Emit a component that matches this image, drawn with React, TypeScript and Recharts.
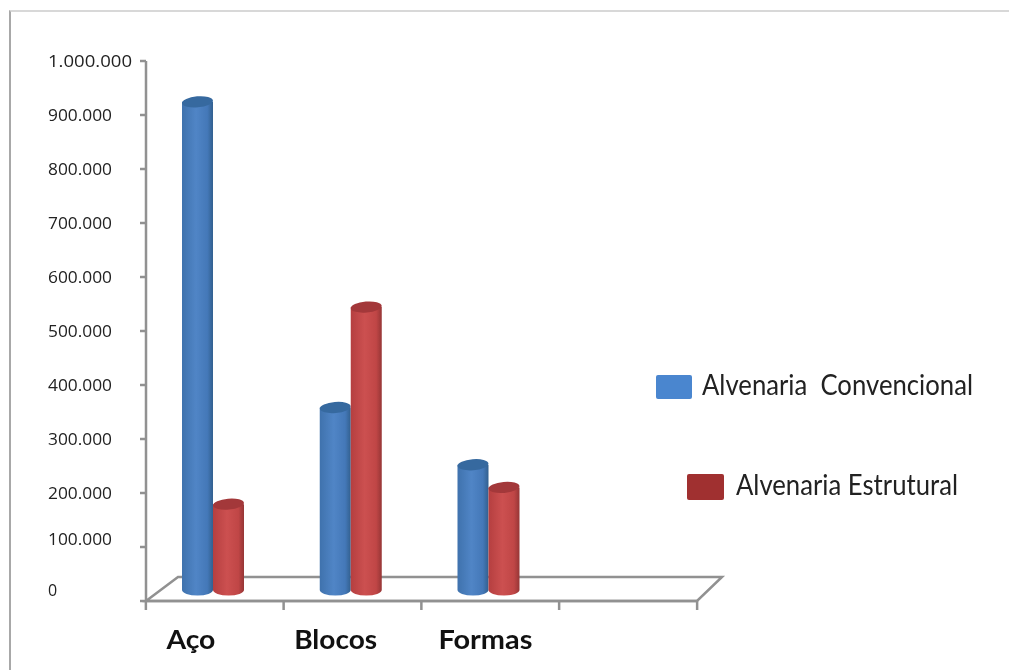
import { BarChart, Bar, XAxis, YAxis, Legend, usePlotArea } from "recharts";

const categories = ["Aço", "Blocos", "Formas", ""];
const convencional = [904000, 338000, 232000, null];
const estrutural = [159000, 524000, 190000, null];
const yTicks = [0, 100000, 200000, 300000, 400000, 500000, 600000, 700000, 800000, 900000, 1000000];

const data = categories.map((name, i) => ({
  name,
  conv: convencional[i],
  estr: estrutural[i],
}));

const AXIS = "#919191";
const DEPTH = 11; // bars stand on the middle of the 3d floor
const RY = 5.5;

const fmt = (v: number) => String(v).replace(/\B(?=(\d{3})+$)/g, ".");

function Cylinder(props: any) {
  const { y, width, height, grad, cap } = props;
  if (!height) return null;
  const x = props.x - 2;
  const top = y - DEPTH;
  const bottom = top + height;
  const r = width / 2;
  return (
    <g>
      <path
        d={`M${x},${top} L${x},${bottom} A${r},${RY} 0 0 0 ${x + width},${bottom} L${x + width},${top} Z`}
        fill={`url(#${grad})`}
      />
      <ellipse
        cx={x + r}
        cy={top}
        rx={r}
        ry={RY}
        fill={cap}
        transform={`rotate(-5 ${x + r} ${top})`}
      />
    </g>
  );
}

function Floor() {
  const plot = usePlotArea();
  if (!plot) return null;
  const { x, y, width, height } = plot;
  const b = y + height;
  return (
    <path
      d={`M${x},${b} L${x + 32},${b - 24} L${x + width + 25},${b - 24} L${x + width},${b} Z`}
      fill="none"
      stroke={AXIS}
      strokeWidth={2.5}
    />
  );
}

function YTick(props: any) {
  const { y, payload } = props;
  const shift = payload.value === 0 ? -11 : payload.value === 100000 ? -8 : 0;
  const label = fmt(payload.value);
  return (
    <text
      x={48}
      y={y + shift + 6}
      fontSize={16}
      fontFamily="Open Sans"
      fill="#222"
      textLength={label.length === 1 ? undefined : (label.length === 9 ? 84 : 64)}
      lengthAdjust="spacingAndGlyphs"
    >
      {label}
    </text>
  );
}

function XTick(props: any) {
  const { x, y, payload, index } = props;
  const labelShift = [-24, -17, -5, 0][index] ?? 0;
  return (
    <g>
      <line x1={x - 69} x2={x - 69} y1={y - 8} y2={y + 1} stroke={AXIS} strokeWidth={2.5} />
      {index === 3 && <line x1={x + 69} x2={x + 69} y1={y - 8} y2={y + 1} stroke={AXIS} strokeWidth={2.5} />}
      <text
        x={x + labelShift}
        y={y + 40}
        textAnchor="middle"
        fontSize={27}
        fontWeight={700}
        fontFamily="Lato"
        fill="#111"
        textLength={payload.value ? [49, 83, 94][index] : undefined}
        lengthAdjust="spacingAndGlyphs"
      >
        {payload.value}
      </text>
    </g>
  );
}

function LegendBox(props: any) {
  const spots = [
    { sx: 656, sy: 375, sw: 36, sh: 24, tx: 702, ty: 395, tw: 271 },
    { sx: 687, sy: 474, sw: 37, sh: 26, tx: 736, ty: 495, tw: 222 },
  ];
  return (
    <svg width={1009} height={670} style={{ position: "absolute", left: 0, top: 0 }}>
      {(props.payload || []).map((p: any, i: number) => {
        const s = spots[i];
        return (
          <g key={p.value}>
            <rect x={s.sx} y={s.sy} width={s.sw} height={s.sh} rx={2} fill={p.color} />
            <text
              x={s.tx}
              y={s.ty}
              fontSize={29}
              fontFamily="Lato"
              fill="#222"
              textLength={s.tw}
              lengthAdjust="spacingAndGlyphs"
              style={{ whiteSpace: "pre" }}
            >
              {p.value}
            </text>
          </g>
        );
      })}
    </svg>
  );
}

export default function App() {
  return (
    <div style={{ position: "absolute", left: 0, top: 0, width: 1009, height: 670, background: "#fff", overflow: "hidden", filter: "blur(0.6px)" }}>
      <div style={{ position: "absolute", left: 9, top: 10, width: 1000, height: 660, borderTop: "2px solid #d8d8d8", borderLeft: "2px solid #a8a8a8", boxSizing: "border-box" }} />
      <BarChart
        width={1009}
        height={670}
        data={data}
        margin={{ top: 61, right: 312, bottom: 0, left: 0 }}
        barCategoryGap={38}
        barGap={0}
        style={{ position: "absolute", left: 0, top: 0 }}
      >
        <defs>
          <linearGradient id="blueCyl" x1="0" x2="1" y1="0" y2="0">
            <stop offset="0" stopColor="#3f72ad" />
            <stop offset="0.45" stopColor="#5085c6" />
            <stop offset="0.82" stopColor="#4478b8" />
            <stop offset="1" stopColor="#32608f" />
          </linearGradient>
          <linearGradient id="redCyl" x1="0" x2="1" y1="0" y2="0">
            <stop offset="0" stopColor="#b53f40" />
            <stop offset="0.45" stopColor="#cc5050" />
            <stop offset="0.82" stopColor="#c04646" />
            <stop offset="1" stopColor="#963636" />
          </linearGradient>
        </defs>
        <Floor />
        <XAxis
          dataKey="name"
          height={69}
          axisLine={{ stroke: AXIS, strokeWidth: 2.5 }}
          tickLine={false}
          tick={<XTick />}
          interval={0}
        />
        <YAxis
          width={146}
          domain={[0, 1000000]}
          ticks={yTicks}
          interval={0}
          axisLine={{ stroke: AXIS, strokeWidth: 2.5 }}
          tickLine={{ stroke: AXIS, strokeWidth: 2.5 }}
          tickSize={6}
          tick={<YTick />}
        />
        <Legend
          layout="horizontal"
          verticalAlign="middle"
          align="center"
          wrapperStyle={{ position: "absolute", left: 0, top: 0, width: 1009, height: 670, margin: 0 }}
          content={<LegendBox />}
        />
        <Bar
          dataKey="conv"
          name="Alvenaria  Convencional"
          fill="#4a86cf"
          barSize={31}
          isAnimationActive={false}
          shape={(p: any) => <Cylinder {...p} grad="blueCyl" cap="#36699f" />}
        />
        <Bar
          dataKey="estr"
          name="Alvenaria Estrutural"
          fill="#a03030"
          barSize={31}
          isAnimationActive={false}
          shape={(p: any) => <Cylinder {...p} grad="redCyl" cap="#a3383a" />}
        />
      </BarChart>
    </div>
  );
}
